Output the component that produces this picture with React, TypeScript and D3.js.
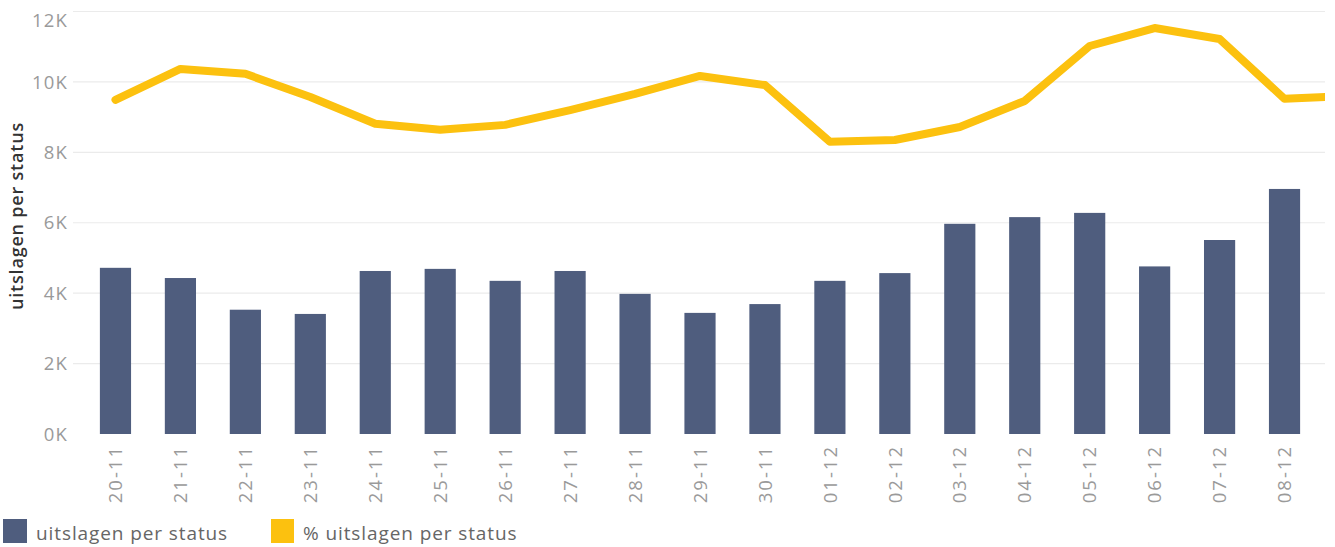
import React from "react";
import * as d3 from "d3";

const categories = ["20-11","21-11","22-11","23-11","24-11","25-11","26-11","27-11","28-11","29-11","30-11","01-12","02-12","03-12","04-12","05-12","06-12","07-12","08-12"];
const barValues = [4720,4430,3530,3410,4630,4690,4350,4630,3980,3440,3690,4350,4570,5970,6160,6280,4760,5510,6960];
const lineValues = [9490,10370,10230,9570,8810,8640,8780,9200,9660,10170,9910,8300,8350,8720,9460,11020,11530,11220,9520];
const lineNextValue = 9600; // continues beyond the visible range (clipped)
const yTicks = [0,2000,4000,6000,8000,10000,12000];
const legendItems = ["uitslagen per status", "% uitslagen per status"];

const W = 1335, H = 547;
const plotLeft = 73, plotRight = 1325;
const BAR = "#4f5d7e";
const YEL = "#fcc10f";
const FONT = "'Open Sans', sans-serif";

export default function App() {
  const x = d3.scaleBand<string>().domain(categories).range([83, 1317]).paddingInner(0.52).paddingOuter(0.26);
  const y = d3.scaleLinear().domain([0, 12000]).range([434, 11.5]);
  const step = x.step();
  const cx = (i: number) => (x(categories[i]) as number) + x.bandwidth() / 2;
  const pts: [number, number][] = lineValues.map((v, i) => [cx(i), y(v)]);
  pts.push([cx(categories.length - 1) + step, y(lineNextValue)]);
  const line = d3.line().curve(d3.curveLinear)(pts) || "";
  const fmt = (v: number) => `${v / 1000}K`;

  return (
    <svg width={W} height={H} style={{ position: "absolute", left: 0, top: 0, background: "#fff" }} fontFamily={FONT}>
      <defs>
        <clipPath id="plotclip"><rect x={plotLeft} y={0} width={plotRight - plotLeft} height={440} /></clipPath>
      </defs>
      {yTicks.map(t => (
        <g key={t}>
          {t > 0 && <line x1={plotLeft} x2={plotRight} y1={y(t)} y2={y(t)} stroke="#ebebeb" strokeWidth={1.2} />}
          <text x={68} y={Math.max(y(t), 20)} dy="0.36em" textAnchor="end" fontSize={18.5} fill="#9a9a9a" letterSpacing={1.2}>{fmt(t)}</text>
        </g>
      ))}
      {categories.map((c, i) => (
        <rect key={c} x={x(c)} y={y(barValues[i])} width={x.bandwidth()} height={y(0) - y(barValues[i])} fill={BAR} />
      ))}
      <path d={line} fill="none" stroke={YEL} strokeWidth={8} strokeLinejoin="round" strokeLinecap="round" clipPath="url(#plotclip)" />
      {categories.map((c, i) => (
        <text key={c} transform={`translate(${cx(i)},445) rotate(-90)`} textAnchor="end" dy="0.36em" fontSize={18.5} fill="#9a9a9a" letterSpacing={2}>{c}</text>
      ))}
      <text transform="translate(23,216) rotate(-90)" textAnchor="middle" fontSize={18} fontWeight={600} fill="#333" letterSpacing={0.8}>uitslagen per status</text>
      <rect x={3} y={519} width={24} height={24} fill={BAR} />
      <text x={36} y={540} fontSize={19} fill="#666" letterSpacing={0.9}>{legendItems[0]}</text>
      <rect x={271} y={519} width={23} height={24} fill={YEL} />
      <text x={303} y={540} fontSize={19} fill="#666" letterSpacing={0.9}>{legendItems[1]}</text>
    </svg>
  );
}
